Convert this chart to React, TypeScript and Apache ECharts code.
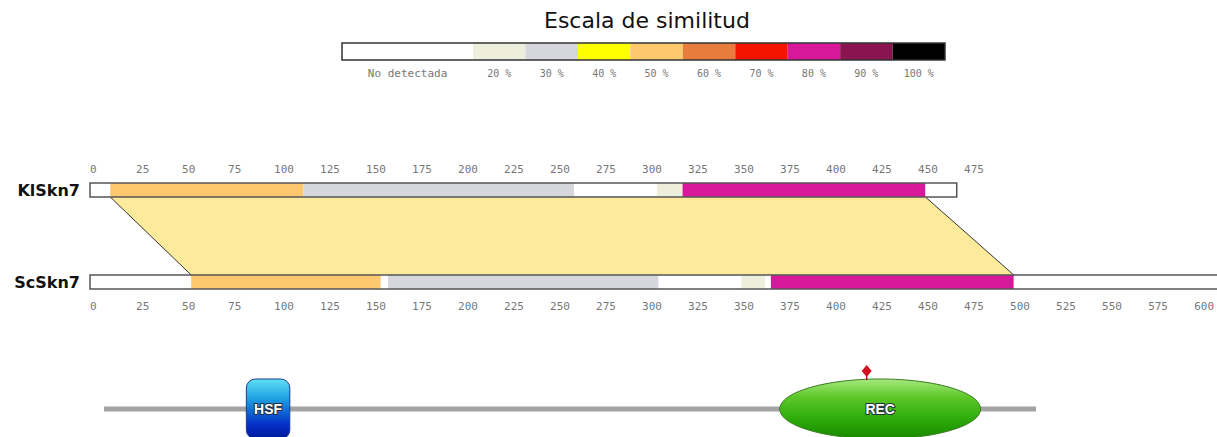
import React, { useEffect, useRef } from "react";
import * as echarts from "echarts";

// ---------- data ----------
const trackNames = ["KlSkn7", "ScSkn7"];
const trackLengths = [471, 640];
const axisMax = 612;
const topAxisLimit = 475;
const tickInterval = 25;

// [start, end, similarity key]
const klSegments: [number, number, string][] = [
  [0, 11, "none"],
  [11, 116, "50"],
  [116, 263, "30"],
  [263, 308, "none"],
  [308, 322, "20"],
  [322, 454, "80"],
  [454, 471, "none"],
];
const scSegments: [number, number, string][] = [
  [0, 55, "none"],
  [55, 158, "50"],
  [158, 162, "none"],
  [162, 309, "30"],
  [309, 354, "none"],
  [354, 367, "20"],
  [367, 370, "none"],
  [370, 502, "80"],
  [502, 640, "none"],
];
// alignment block: KlSkn7 start/end, ScSkn7 start/end
const alignment = [11, 454, 55, 502];

const legendKeys = ["none", "20", "30", "40", "50", "60", "70", "80", "90", "100"];
const legendLabels = ["No detectada", "20 %", "30 %", "40 %", "50 %", "60 %", "70 %", "80 %", "90 %", "100 %"];
const legendColors = ["#ffffff", "#eeeedc", "#d6d6dd", "#ffff00", "#fdc86e", "#e87c3c", "#f41400", "#d8189a", "#8a1450", "#000000"];
const legendWidths = [2.5, 1, 1, 1, 1, 1, 1, 1, 1, 1];

const proteinLength = 622;
const domainNames = ["HSF", "REC"];
const domainStarts = [95, 451];
const domainEnds = [124, 585];
const domainShapes = ["box", "ellipse"];
const siteNames = ["phospho"];
const sitePositions = [509];

const colorOf = (k: string) => legendColors[legendKeys.indexOf(k)];

export default function App() {
  const ref = useRef<HTMLDivElement>(null);
  useEffect(() => {
    document.body.style.margin = "0";
    const chart = echarts.init(ref.current!, null, { renderer: "svg" });

    const segData: any[] = [];
    klSegments.forEach((s) => segData.push([s[0], s[1], 0, s[2]]));
    scSegments.forEach((s) => segData.push([s[0], s[1], 1, s[2]]));
    const outlineData = trackLengths.map((l, i) => [0, l, i]);

    let acc = 0;
    const legendData = legendKeys.map((k, i) => {
      const s = acc;
      acc += legendWidths[i];
      return [s, acc, 0.5, i];
    });
    const legendTotal = acc;

    const BAR_H = 14;
    const tickFmt = (limit: number) => (v: number) =>
      v % tickInterval === 0 && v <= limit ? String(v) : "";

    const axisLabelBase = {
      fontFamily: "DejaVu Sans Mono",
      fontSize: 11,
      color: "#777777",
      align: "left" as const,
    };

    chart.setOption({
      animation: false,
      title: {
        text: "Escala de similitud",
        left: 539,
        top: 4,
        textStyle: { fontFamily: "DejaVu Sans", fontSize: 22, fontWeight: "normal", color: "#111" },
      },
      grid: [
        { left: 90, right: 0, top: 190, bottom: 437 - 282 },
        { left: 104, right: 1217 - 1036, top: 349, bottom: 0 },
        { left: 342, width: 603, top: 43, height: 17 },
      ],
      xAxis: [
        {
          gridIndex: 0, type: "value", min: 0, max: axisMax, interval: tickInterval, position: "bottom",
          axisLine: { show: false }, axisTick: { show: false }, splitLine: { show: false },
          axisLabel: { ...axisLabelBase, margin: 19, formatter: tickFmt(axisMax), showMaxLabel: false },
        },
        {
          gridIndex: 0, type: "value", min: 0, max: axisMax, interval: tickInterval, position: "top",
          axisLine: { show: false }, axisTick: { show: false }, splitLine: { show: false },
          axisLabel: { ...axisLabelBase, margin: 15, formatter: tickFmt(topAxisLimit), showMaxLabel: false },
        },
        { gridIndex: 1, type: "value", min: 0, max: proteinLength, show: false },
        { gridIndex: 2, type: "value", min: 0, max: legendTotal, show: false },
      ],
      yAxis: [
        {
          gridIndex: 0, type: "category", data: trackNames, inverse: true, boundaryGap: false,
          axisLine: { show: false }, axisTick: { show: false }, splitLine: { show: false },
          axisLabel: { fontFamily: "DejaVu Sans", fontSize: 16, fontWeight: "bold", color: "#111", margin: 10 },
        },
        { gridIndex: 1, type: "value", min: -28, max: 60, show: false },
        { gridIndex: 2, type: "value", min: 0, max: 1, show: false },
      ],
      series: [
        // alignment polygon
        {
          type: "custom", xAxisIndex: 0, yAxisIndex: 0, z: 1,
          data: [[alignment[0], alignment[1], alignment[2], alignment[3], 0, 1]],
          encode: { x: [0, 1, 2, 3], y: [4, 5] },
          renderItem: (params: any, api: any) => {
            const a = api.coord([api.value(0), 0]);
            const b = api.coord([api.value(1), 0]);
            const c = api.coord([api.value(3), 1]);
            const d = api.coord([api.value(2), 1]);
            const yt = a[1] + BAR_H / 2;
            const yb = d[1] - BAR_H / 2;
            return {
              type: "group",
              children: [
                { type: "polygon", shape: { points: [[a[0], yt], [b[0], yt], [c[0], yb], [d[0], yb]] }, style: { fill: "#fdea9a" } },
                { type: "line", shape: { x1: a[0], y1: yt, x2: d[0], y2: yb }, style: { stroke: "#333", lineWidth: 1 } },
                { type: "line", shape: { x1: b[0], y1: yt, x2: c[0], y2: yb }, style: { stroke: "#333", lineWidth: 1 } },
              ],
            };
          },
        },
        // segments
        {
          type: "custom", xAxisIndex: 0, yAxisIndex: 0, z: 2,
          data: segData,
          encode: { x: [0, 1], y: 2 },
          renderItem: (params: any, api: any) => {
            const p0 = api.coord([api.value(0), api.value(2)]);
            const p1 = api.coord([api.value(1), api.value(2)]);
            const key = segData[params.dataIndex][3];
            return {
              type: "rect",
              shape: { x: p0[0], y: p0[1] - BAR_H / 2, width: p1[0] - p0[0], height: BAR_H },
              style: { fill: colorOf(key) },
            };
          },
        },
        // outlines
        {
          type: "custom", xAxisIndex: 0, yAxisIndex: 0, z: 3,
          data: outlineData,
          encode: { x: [0, 1], y: 2 },
          renderItem: (params: any, api: any) => {
            const p0 = api.coord([api.value(0), api.value(2)]);
            const p1 = api.coord([api.value(1), api.value(2)]);
            return {
              type: "rect",
              shape: { x: p0[0], y: p0[1] - BAR_H / 2, width: p1[0] - p0[0], height: BAR_H },
              style: { fill: "none", stroke: "#555", lineWidth: 1.5 },
            };
          },
        },
        // legend
        {
          type: "custom", xAxisIndex: 3, yAxisIndex: 2,
          data: legendData,
          encode: { x: [0, 1], y: 2 },
          renderItem: (params: any, api: any) => {
            const p0 = api.coord([api.value(0), 1]);
            const p1 = api.coord([api.value(1), 0]);
            const i = params.dataIndex;
            return {
              type: "group",
              children: [
                { type: "rect", shape: { x: p0[0], y: p0[1], width: p1[0] - p0[0], height: p1[1] - p0[1] }, style: { fill: legendColors[i] } },
                {
                  type: "text",
                  style: {
                    text: legendLabels[i], x: (p0[0] + p1[0]) / 2, y: p1[1] + 13, align: "center", verticalAlign: "middle",
                    fontFamily: "DejaVu Sans Mono", fontSize: i === 0 ? 11 : 10, fill: "#777777",
                  },
                },
              ],
            };
          },
        },
        {
          type: "custom", xAxisIndex: 3, yAxisIndex: 2, z: 3,
          data: [[0, legendTotal, 0.5]],
          encode: { x: [0, 1], y: 2 },
          renderItem: (params: any, api: any) => {
            const p0 = api.coord([0, 1]);
            const p1 = api.coord([api.value(1), 0]);
            return { type: "rect", shape: { x: p0[0], y: p0[1], width: p1[0] - p0[0], height: p1[1] - p0[1] }, style: { fill: "none", stroke: "#333", lineWidth: 1.5 } };
          },
        },
        // protein backbone
        {
          type: "custom", xAxisIndex: 2, yAxisIndex: 1, z: 1,
          data: [[0, proteinLength, 0]],
          encode: { x: [0, 1], y: 2 },
          renderItem: (params: any, api: any) => {
            const p0 = api.coord([api.value(0), 0]);
            const p1 = api.coord([api.value(1), 0]);
            return { type: "rect", shape: { x: p0[0], y: p0[1] - 2.5, width: p1[0] - p0[0], height: 5 }, style: { fill: "#a3a3a3" } };
          },
        },
        // domains
        {
          type: "custom", xAxisIndex: 2, yAxisIndex: 1, z: 2,
          data: domainNames.map((n, i) => [domainStarts[i], domainEnds[i], 0]),
          encode: { x: [0, 1], y: 2 },
          renderItem: (params: any, api: any) => {
            const i = params.dataIndex;
            const p0 = api.coord([api.value(0), 0]);
            const p1 = api.coord([api.value(1), 0]);
            const cx = (p0[0] + p1[0]) / 2;
            const cy = p0[1];
            const label = {
              type: "text",
              z2: 10,
              style: {
                text: domainNames[i], x: cx, y: cy, align: "center", verticalAlign: "middle",
                fontFamily: "Liberation Sans Narrow, Liberation Sans", fontSize: 14, fontWeight: "bold",
                fill: "#ffffff", stroke: "#203040", lineWidth: 2,
              },
            };
            if (domainShapes[i] === "box") {
              return {
                type: "group",
                children: [
                  {
                    type: "rect",
                    shape: { x: p0[0], y: cy - 30, width: p1[0] - p0[0], height: 60, r: 9 },
                    style: {
                      fill: new echarts.graphic.LinearGradient(0, 0, 0, 1, [
                        { offset: 0, color: "#5fe0f5" },
                        { offset: 0.35, color: "#1a9be0" },
                        { offset: 0.75, color: "#0530c8" },
                        { offset: 1, color: "#001a9a" },
                      ]),
                      stroke: "#1a3c8a", lineWidth: 1,
                    },
                  },
                  label,
                ],
              };
            }
            return {
              type: "group",
              children: [
                {
                  type: "ellipse",
                  shape: { cx, cy, rx: (p1[0] - p0[0]) / 2, ry: 30 },
                  style: {
                    fill: new echarts.graphic.LinearGradient(0, 0, 0, 1, [
                      { offset: 0, color: "#a8e880" },
                      { offset: 0.3, color: "#5cc828" },
                      { offset: 0.7, color: "#2aa808" },
                      { offset: 1, color: "#1a8a00" },
                    ]),
                    stroke: "#3a7a20", lineWidth: 1,
                  },
                },
                label,
              ],
            };
          },
        },
        // site marker: diamond on a short stem
        {
          type: "custom", xAxisIndex: 2, yAxisIndex: 1, z: 5,
          data: sitePositions.map((p, i) => [p, 38]),
          encode: { x: 0, y: 1 },
          renderItem: (params: any, api: any) => {
            const p = api.coord([api.value(0), api.value(1)]);
            return {
              type: "group",
              children: [
                { type: "line", shape: { x1: p[0], y1: p[1], x2: p[0], y2: p[1] + 9 }, style: { stroke: "#c01020", lineWidth: 1.5 } },
                {
                  type: "polygon",
                  shape: { points: [[p[0], p[1] - 6], [p[0] + 5, p[1]], [p[0], p[1] + 6], [p[0] - 5, p[1]]] },
                  style: { fill: "#d01020" },
                },
              ],
            };
          },
        },
      ],
    });
    return () => chart.dispose();
  }, []);
  return <div ref={ref} style={{ width: 1217, height: 437 }} />;
}
